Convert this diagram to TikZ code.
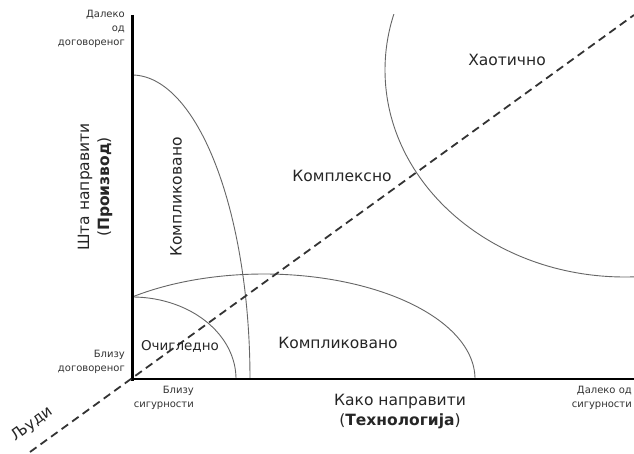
\documentclass[tikz,border=0pt]{standalone}
\usepackage{fontspec}
\setmainfont{DejaVu Sans}
\begin{document}
\begin{tikzpicture}[x=1pt,y=-1pt,
  small/.style={font=\fontsize{10}{14}\selectfont, text=black!80, inner sep=0pt},
  big/.style={font=\fontsize{15.5}{20}\selectfont, text=black!85, inner sep=0pt},
  curve/.style={draw=black!60, line width=0.9pt},
  axis/.style={draw=black, line cap=butt}]
\useasboundingbox[fill=white] (0,0) rectangle (634,454);
% curves
\begin{scope}
\clip (0,15) rectangle (634,454);
\draw[curve] (625,70) ellipse[x radius=240, y radius=207];
\end{scope}
\draw[curve] plot[domain=0:90, samples=80] ({132+118*cos(\x)},{379-304*sin(\x)});
\draw[curve] plot[domain=0:90, samples=60] ({132+104*cos(\x)},{379-82*sin(\x)});
\draw[curve] plot[domain=0:128.7, samples=100] ({264+211*cos(\x)},{379-105*sin(\x)});
% axes
\coordinate (top) at (132,15);
\coordinate (origin) at (132,379);
\coordinate (right) at (634,379);
\draw[axis, line width=3pt] (top) -- (132,380.5);
\draw[axis, line width=2pt] (origin) -- (right);
% dashed people line
\coordinate (dl) at (30,452);
\coordinate (dr) at (634,15);
\draw[draw=black!80, line width=1.8pt, dash pattern=on 8pt off 5pt] (dl) -- (dr);
% labels
\node[small, align=right, anchor=north east] (farAgree) at (125,10) {Далеко\\од\\договореног};
\node[small, align=right, anchor=north east] (nearAgree) at (125,350) {Близу\\договореног};
\node[small, align=right, anchor=north east] (nearCert) at (194,386) {Близу\\сигурности};
\node[small, align=right, anchor=north east] (farCert) at (632,386) {Далеко од\\сигурности};
\node[big, align=center] (how) at (400,412) {Како направити\\(\textbf{Технологија})};
\node[big, align=center, rotate=90] (what) at (95,187) {Шта направити\\(\textbf{Производ})};
\node[big, rotate=90] (complV) at (176,197) {Компликовано};
\node[big] (complex) at (342,176) {Комплексно};
\node[big] (chaos) at (507,60) {Хаотично};
\node[big, font=\fontsize{13.5}{18}\selectfont] (obvious) at (180,346) {Очигледно};
\node[big] (complH) at (338,343) {Компликовано};
\node[big, rotate=36] (people) at (32,424) {Људи};
\end{tikzpicture}
\end{document}
